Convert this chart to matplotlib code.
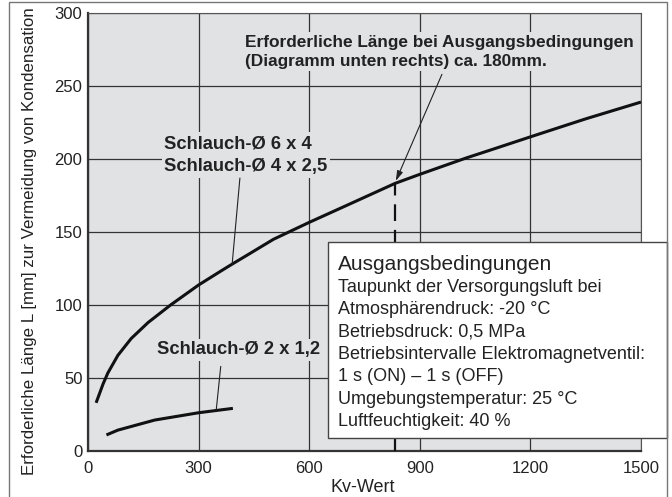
import matplotlib
matplotlib.use("Agg")
import matplotlib.pyplot as plt
from matplotlib.patches import Rectangle

plt.rcParams['font.family'] = ['Liberation Sans', 'DejaVu Sans']

# Data
kv_64 = [22, 41, 54, 81, 117, 163, 224, 300, 362, 391, 434, 503, 600, 684, 833, 900, 1027, 1090, 1204, 1350, 1500]
L_64 = [33, 46, 53.5, 65.5, 77, 88, 100, 113.7, 123.5, 128, 134.5, 145, 156.6, 166.2, 183.3, 189.5, 200.8, 206, 215.5, 227.5, 239]
kv_2 = [50, 81, 181, 300, 393]
L_2 = [11, 14.3, 21.2, 26.2, 29.2]
xticks = [0, 300, 600, 900, 1200, 1500]
yticks = [0, 50, 100, 150, 200, 250, 300]
kv_ref = 833
L_ref = 183

box_lines = ["Taupunkt der Versorgungsluft bei",
             "Atmosphärendruck: -20 °C",
             "Betriebsdruck: 0,5 MPa",
             "Betriebsintervalle Elektromagnetventil:",
             "1 s (ON) – 1 s (OFF)",
             "Umgebungstemperatur: 25 °C",
             "Luftfeuchtigkeit: 40 %"]

bg = '#e1e2e4'
tc = '#222222'
fig = plt.figure(figsize=(6.72, 4.97), dpi=100)
ax = fig.add_axes([88/672, 1-451/497, (641-88)/672, (451-13)/497])
ax.set_facecolor(bg)
ax.set_xlim(0, 1500)
ax.set_ylim(0, 300)
ax.set_xticks(xticks)
ax.set_yticks(yticks)
ax.tick_params(length=0, labelsize=12, colors=tc)
ax.tick_params(axis='x', pad=7)
ax.tick_params(axis='y', pad=4)
ax.grid(True, color='#333333', lw=0.9)
ax.set_axisbelow(True)
for s in ['left', 'bottom']:
    ax.spines[s].set_linewidth(1.6)
    ax.spines[s].set_color('#333333')
for s in ['top', 'right']:
    ax.spines[s].set_linewidth(0.8)
    ax.spines[s].set_color('#555555')
ax.set_xlabel('Kv-Wert', fontsize=13, color=tc, va='center')
ax.xaxis.set_label_coords((363-88)/553, -(488-451)/438)
ax.set_ylabel('Erforderliche Länge L [mm] zur Vermeidung von Kondensation',
              fontsize=12.2, color=tc, va='center')
ax.yaxis.set_label_coords((30-88)/553, (451-241)/438)

ax.plot(kv_64, L_64, color='#111111', lw=2.2, solid_capstyle='butt', solid_joinstyle='round', zorder=3)
ax.plot(kv_2, L_2, color='#111111', lw=2.2, solid_capstyle='butt', solid_joinstyle='round', zorder=3)
ax.plot([kv_ref, kv_ref], [0, L_ref], color='#111111', lw=1.6, dashes=(7.5, 4), zorder=3)

# Labels with background interrupting gridlines
bbox = dict(facecolor=bg, edgecolor='none', pad=2)
ax.text(207, 202.7, 'Schlauch-Ø 6 x 4\nSchlauch-Ø 4 x 2,5', fontsize=13.2, fontweight='bold',
        ha='left', va='center', linespacing=1.45, color=tc, bbox=bbox, zorder=4)
ax.plot([412, 391], [186.8, 128], color=tc, lw=0.8, zorder=4)
ax.text(188, 69.2, 'Schlauch-Ø 2 x 1,2', fontsize=13.2, fontweight='bold',
        ha='left', va='center', color=tc, bbox=bbox, zorder=4)
ax.plot([360, 348], [57.8, 28.5], color=tc, lw=0.8, zorder=4)
ax.text(426, 273.5, 'Erforderliche Länge bei Ausgangsbedingungen\n(Diagramm unten rechts) ca. 180mm.',
        fontsize=12.4, fontweight='bold', ha='left', va='center', linespacing=1.33,
        color=tc, bbox=bbox, zorder=4)
ax.annotate('', xy=(835, 185), xytext=(960, 258),
            arrowprops=dict(arrowstyle='-|>,head_length=0.6,head_width=0.18',
                            color=tc, lw=0.8, shrinkA=0, shrinkB=0), zorder=4)

# Conditions box
ax.add_patch(Rectangle((651, 8.7), 1570 - 651, 143 - 8.7, facecolor='white',
                       edgecolor='#444444', lw=1.0, clip_on=False, zorder=5))
ax.text(678, 127.4, 'Ausgangsbedingungen', fontsize=15, ha='left', va='center',
        color=tc, zorder=6, clip_on=False)
ys = [112.3, 96.6, 81.5, 65.8, 50.7, 35.6, 19.9]
for t, y in zip(box_lines, ys):
    ax.text(678, y, t, fontsize=13, ha='left', va='center', color=tc,
            zorder=6, clip_on=False)

# Outer frame
fig.add_artist(Rectangle((9/672, -0.01), (667-9)/672, 1-2/497+0.01, transform=fig.transFigure,
                         fill=False, edgecolor='#777777', lw=1.0))

fig.savefig('out.png', dpi=100)
